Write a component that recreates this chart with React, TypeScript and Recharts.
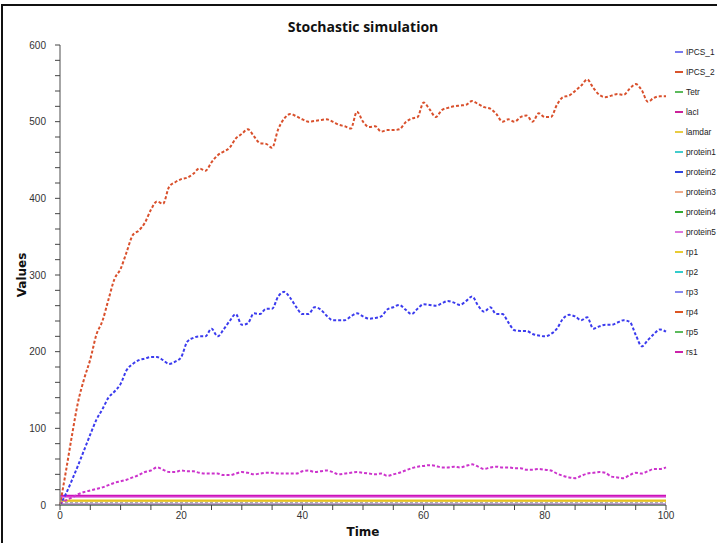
import { LineChart, Line, XAxis, YAxis, Label } from 'recharts';

// time axis (simulation steps)
const time = [
  0, 1, 2, 3, 4, 5, 6, 7, 8, 9, 10, 11, 12, 13, 14, 15, 16, 17, 18, 19, 20,
  21, 22, 23, 24, 25, 26, 27, 28, 29, 30, 31, 32, 33, 34, 35, 36, 37, 38, 39, 40,
  41, 42, 43, 44, 45, 46, 47, 48, 49, 50, 51, 52, 53, 54, 55, 56, 57, 58, 59, 60,
  61, 62, 63, 64, 65, 66, 67, 68, 69, 70, 71, 72, 73, 74, 75, 76, 77, 78, 79, 80,
  81, 82, 83, 84, 85, 86, 87, 88, 89, 90, 91, 92, 93, 94, 95, 96, 97, 98, 99, 100,
];

const rp4 = [
  0, 45, 92, 135, 165, 190, 222, 240, 268, 295, 308, 330, 352, 358, 368, 385, 396, 393, 415, 421, 425,
  427, 432, 439, 436, 447, 456, 461, 466, 478, 484, 490, 481, 472, 471, 466, 490, 504, 510, 507, 503,
  500, 501, 502, 503, 500, 496, 494, 491, 513, 500, 493, 494, 487, 489, 489, 490, 499, 504, 506, 525,
  516, 506, 515, 518, 520, 521, 522, 527, 523, 519, 517, 510, 500, 503, 500, 506, 508, 500, 511, 506,
  506, 522, 532, 534, 540, 547, 555, 544, 535, 532, 534, 536, 535, 543, 549, 541, 526, 531, 533, 533,
];

const rp3 = [
  0, 15, 33, 52, 72, 92, 111, 125, 140, 148, 158, 176, 184, 189, 191, 193, 193, 189, 184, 187, 193,
  213, 218, 220, 220, 230, 220, 229, 240, 249, 235, 237, 250, 249, 256, 256, 272, 278, 270, 258, 249,
  249, 258, 255, 247, 241, 241, 241, 246, 250, 246, 243, 244, 246, 255, 258, 261, 255, 249, 256, 262,
  261, 260, 263, 266, 264, 261, 266, 272, 260, 252, 258, 249, 249, 238, 228, 227, 227, 223, 221, 220,
  223, 230, 243, 248, 246, 241, 245, 230, 233, 235, 235, 238, 241, 239, 222, 207, 215, 223, 229, 226,
];

const rs1 = [
  2, 6, 10, 14, 17, 19, 21, 23, 26, 29, 31, 33, 36, 39, 43, 45, 49, 46, 43, 43, 45,
  44, 44, 42, 41, 41, 41, 39, 39, 41, 43, 42, 40, 41, 42, 42, 41, 41, 41, 41, 44,
  45, 43, 44, 45, 43, 40, 41, 42, 43, 42, 41, 40, 41, 38, 40, 42, 45, 48, 50, 51,
  52, 51, 49, 49, 50, 49, 51, 53, 50, 47, 49, 50, 49, 49, 48, 48, 46, 46, 47, 46,
  45, 41, 38, 36, 35, 38, 41, 42, 43, 42, 37, 36, 35, 39, 42, 41, 44, 47, 47, 49,
];

// species that stay flat during the run, and their level
const flatNames = ['IPCS_1', 'IPCS_2', 'Tetr', 'protein3', 'protein4', 'rp2', 'rp5', 'protein2', 'protein1', 'rp1', 'lamdar', 'protein5', 'lacI'];
const flatValues = [0, 0, 0, 0, 0, 0, 0, 1, 3, 5, 6, 10, 12];

const legendNames = [
  'IPCS_1', 'IPCS_2', 'Tetr', 'lacI', 'lamdar', 'protein1', 'protein2', 'protein3',
  'protein4', 'protein5', 'rp1', 'rp2', 'rp3', 'rp4', 'rp5', 'rs1',
];
const legendColors = [
  '#7a7aee', '#d9532c', '#5cbb5c', '#cc2299', '#e8cc44', '#44cccc', '#3344dd', '#eeaa88',
  '#33aa33', '#dd77dd', '#e8cc33', '#33cccc', '#8888ee', '#dd5522', '#5cbb5c', '#cc22aa',
];

const xTicks = [0, 5, 10, 15, 20, 25, 30, 35, 40, 45, 50, 55, 60, 65, 70, 75, 80, 85, 90, 95, 100];
const yTicks = [
  0, 20, 40, 60, 80, 100, 120, 140, 160, 180, 200, 220, 240, 260, 280, 300,
  320, 340, 360, 380, 400, 420, 440, 460, 480, 500, 520, 540, 560, 580, 600,
];

const data = time.map((t, i) => {
  const row: Record<string, number> = { t, rp4: rp4[i], rp3: rp3[i], rs1: rs1[i] };
  flatNames.forEach((n, k) => {
    row[n] = flatValues[k];
  });
  return row;
});

const colorOf = (name: string) => legendColors[legendNames.indexOf(name)];

const flatStyle: Record<string, { color: string; width: number; dash?: string }> = {
  lacI: { color: '#cc11bb', width: 2 },
  protein5: { color: '#e68ae6', width: 1.5 },
  lamdar: { color: '#e6c020', width: 2 },
  rp1: { color: '#eed860', width: 1.5 },
  protein1: { color: '#aaaaaa', width: 1.5, dash: '3 2' },
  protein2: { color: '#8844bb', width: 1.5 },
};

const tickFont = { fontFamily: 'Liberation Sans, sans-serif', fontSize: 10, fill: '#333' };
const axisTitle = { fontFamily: 'DejaVu Sans, sans-serif', fontWeight: 700, fontSize: 12, color: '#111' };

export default function App() {
  return (
    <div style={{ position: 'fixed', left: 0, top: 0, width: 717, height: 543, overflow: 'hidden', background: '#fff' }}>
      {/* frame */}
      <div style={{ position: 'absolute', left: 1, top: 4, width: 2, height: 560, background: '#111' }} />
      <div style={{ position: 'absolute', left: 1, top: 4, width: 740, height: 2, background: '#111' }} />
      <div
        style={{
          position: 'absolute',
          left: 60,
          width: 606,
          top: 17,
          textAlign: 'center',
          fontFamily: 'Open Sans, sans-serif',
          fontWeight: 700,
          fontSize: 14,
          color: '#111',
        }}
      >
        Stochastic simulation
      </div>
      <div style={{ position: 'absolute', left: 0, top: 0 }}>
        <LineChart width={717} height={543} data={data} margin={{ top: 45, right: 51, bottom: 8, left: 0 }}>
          <XAxis
            dataKey="t"
            type="number"
            domain={[0, 100]}
            ticks={xTicks}
            interval={0}
            tickFormatter={(v) => (v % 20 === 0 ? String(v) : '')}
            tick={tickFont}
            tickSize={5}
            axisLine={{ stroke: '#888', strokeWidth: 1.5 }}
            tickLine={{ stroke: '#444' }}
            height={30}
          />
          <YAxis
            type="number"
            domain={[0, 600]}
            ticks={yTicks}
            interval={0}
            tickFormatter={(v) => (v % 100 === 0 ? String(v) : '')}
            tick={tickFont}
            tickSize={5}
            tickMargin={9}
            axisLine={{ stroke: '#888', strokeWidth: 1.5 }}
            tickLine={{ stroke: '#444' }}
            width={60}
          >
            <Label
              value="Values"
              angle={-90}
              position="insideLeft"
              offset={22}
              style={{ fontFamily: 'DejaVu Sans, sans-serif', fontWeight: 700, fontSize: 12, fill: '#111', textAnchor: 'middle' }}
            />
          </YAxis>
          {flatNames.map((n) => {
            const s = flatStyle[n];
            return (
              <Line
                key={n}
                dataKey={n}
                type="linear"
                dot={false}
                stroke={s ? s.color : colorOf(n)}
                strokeWidth={s ? s.width : 1.5}
                strokeDasharray={s && s.dash ? s.dash : undefined}
                isAnimationActive={false}
              />
            );
          })}
          <Line dataKey="rs1" type="monotone" dot={false} stroke="#cc33cc" strokeWidth={2} strokeDasharray="3 2" isAnimationActive={false} />
          <Line dataKey="rp3" type="monotone" dot={false} stroke="#3b3bee" strokeWidth={2} strokeDasharray="3 2" isAnimationActive={false} />
          <Line dataKey="rp4" type="monotone" dot={false} stroke="#d9502c" strokeWidth={2} strokeDasharray="3 2" isAnimationActive={false} />
        </LineChart>
      </div>
      <div style={{ position: 'absolute', left: 60, width: 606, top: 525, textAlign: 'center', ...axisTitle }}>Time</div>
      <div style={{ position: 'absolute', left: 675, top: 42 }}>
        {legendNames.map((n, i) => (
          <div
            key={n}
            style={{
              display: 'flex',
              alignItems: 'center',
              height: 20,
              fontFamily: 'Liberation Sans, sans-serif',
              fontSize: 8.3,
              color: '#222',
              whiteSpace: 'nowrap',
            }}
          >
            <span style={{ display: 'inline-block', width: 8, height: 1.5, background: legendColors[i], marginRight: 3, flexShrink: 0 }} />
            {n}
          </div>
        ))}
      </div>
    </div>
  );
}
